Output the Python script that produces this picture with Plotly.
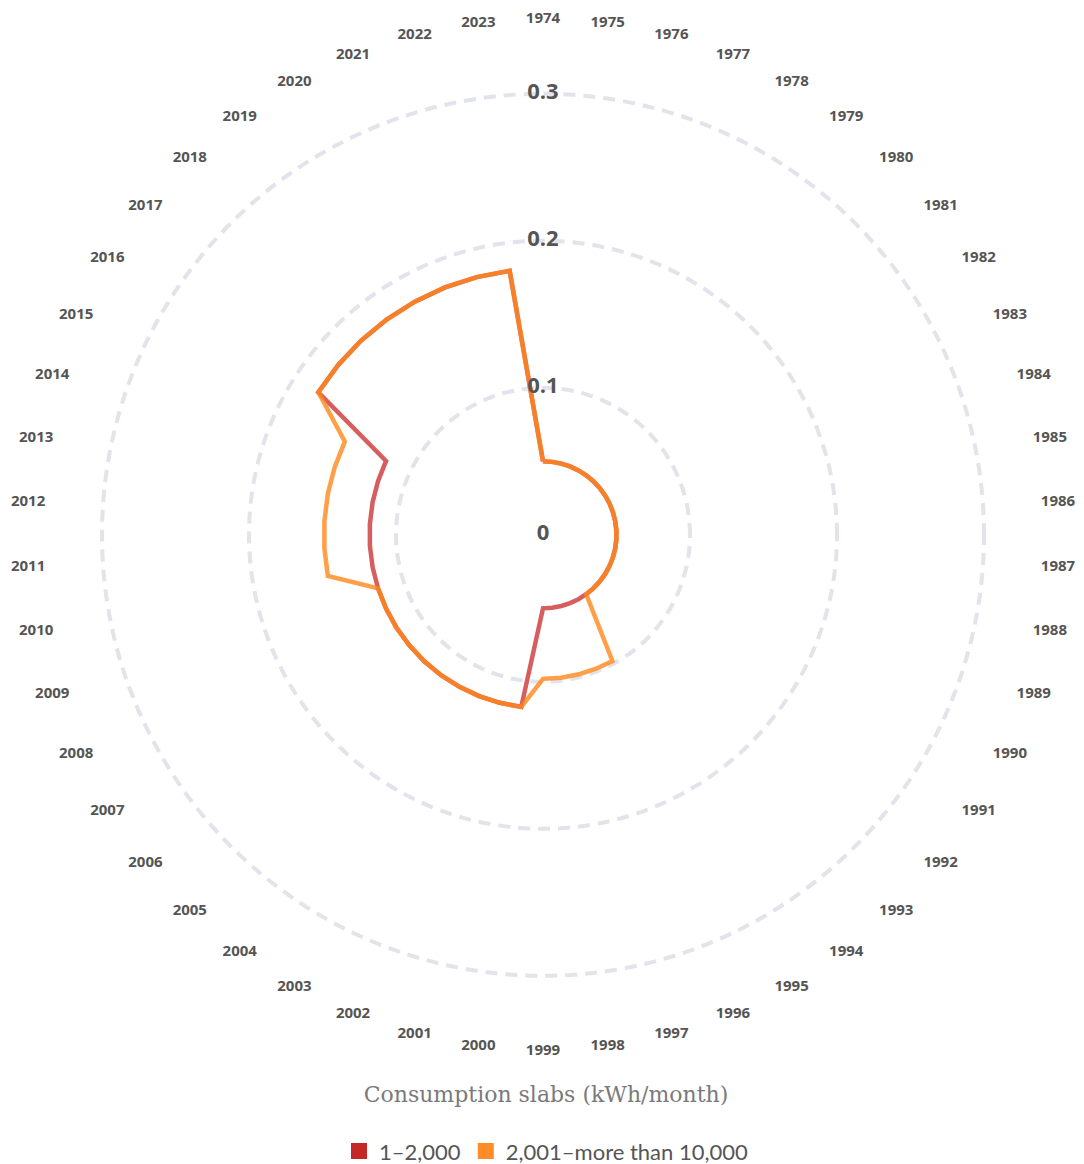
import plotly.graph_objects as go

years = [str(y) for y in range(1974, 2024)]

# Share values per year
slab_1_2000 = [
    0.05, 0.05, 0.05, 0.05, 0.05, 0.05, 0.05, 0.05, 0.05, 0.05,   # 1974-1983
    0.05, 0.05, 0.05, 0.05, 0.05, 0.05, 0.05, 0.05, 0.05, 0.05,   # 1984-1993
    0.05, 0.05, 0.05, 0.05, 0.05, 0.05,                           # 1994-1999
    0.118, 0.118, 0.118, 0.118, 0.118, 0.118, 0.118, 0.118,       # 2000-2007
    0.118, 0.118, 0.118, 0.118, 0.118, 0.118, 0.118, 0.118,       # 2008-2015
    0.181, 0.181, 0.181, 0.181, 0.181, 0.181, 0.181, 0.181,       # 2016-2023
]
slab_2001_plus = [
    0.05, 0.05, 0.05, 0.05, 0.05, 0.05, 0.05, 0.05, 0.05, 0.05,   # 1974-1983
    0.05, 0.05, 0.05, 0.05, 0.05, 0.05, 0.05, 0.05, 0.05, 0.05,   # 1984-1993
    0.05, 0.098, 0.098, 0.098, 0.098, 0.098,                      # 1994-1999
    0.118, 0.118, 0.118, 0.118, 0.118, 0.118, 0.118, 0.118,       # 2000-2007
    0.118, 0.118, 0.149, 0.149, 0.149, 0.149, 0.149, 0.149,       # 2008-2015
    0.181, 0.181, 0.181, 0.181, 0.181, 0.181, 0.181, 0.181,       # 2016-2023
]
series_names = ["1–2,000", "2,001–more than 10,000"]
series_line_colors = ["rgba(200,40,40,0.75)", "rgba(255,135,25,0.8)"]
series_legend_colors = ["#c62828", "#ff8c27"]

radial_ticks = [0, 0.1, 0.2, 0.3]
radial_tick_labels = ["0", "0.1", "0.2", "0.3"]
label_radius = 0.351

fig = go.Figure()

for name, vals, col in zip(series_names, [slab_1_2000, slab_2001_plus], series_line_colors):
    fig.add_trace(go.Scatterpolar(
        r=vals + vals[:1], theta=years + years[:1], mode="lines",
        line=dict(color=col, width=4.5), showlegend=False, name=name,
        hoverinfo="skip",
    ))

# radial tick labels centred on the rings
fig.add_trace(go.Scatterpolar(
    r=radial_ticks, theta=[years[0]] * len(radial_ticks), mode="text",
    text=radial_tick_labels, textposition="middle center", cliponaxis=False,
    textfont=dict(family="Open Sans", size=22, color="#555555", weight="bold"),
    showlegend=False, hoverinfo="skip",
))

# angular (year) labels
fig.add_trace(go.Scatterpolar(
    r=[label_radius] * len(years), theta=years, mode="text",
    text=years, textposition="middle center", cliponaxis=False,
    textfont=dict(family="Open Sans", size=15, color="#555555", weight="bold"),
    showlegend=False, hoverinfo="skip",
))

# legend entries
for name, col in zip(series_names, series_legend_colors):
    fig.add_trace(go.Scatterpolar(
        r=[None], theta=[years[0]], mode="markers", name=name,
        marker=dict(symbol="square", size=24, color=col),
    ))

W, H = 1076, 1164
cx, cy, R = 535, 536, 525
fig.update_layout(
    width=W, height=H,
    margin=dict(l=0, r=0, t=0, b=0),
    paper_bgcolor="white", plot_bgcolor="white",
    polar=dict(
        domain=dict(x=[(cx - R) / W, (cx + R) / W], y=[(H - cy - R) / H, (H - cy + R) / H]),
        bgcolor="rgba(0,0,0,0)",
        radialaxis=dict(range=[0, label_radius], tickvals=[0.1, 0.2, 0.3],
                        showticklabels=False, ticks="", showline=False,
                        gridcolor="#e2e3eb", gridwidth=4, griddash="12px,8px"),
        angularaxis=dict(type="category", categoryarray=years, direction="clockwise",
                         rotation=90, showgrid=False, showline=False, ticks="",
                         showticklabels=False),
    ),
    legend=dict(
        orientation="h", x=0.5, xanchor="center", y=(H - 1084) / H, yanchor="top",
        title=dict(text="Consumption slabs (kWh/month)<br> ", side="top center",
                   font=dict(family="DejaVu Serif", size=22, color="#7a7a7a")),
        font=dict(family="Lato", size=22, color="#555555"),
        itemsizing="trace",
    ),
)

fig.write_html("out.html")
